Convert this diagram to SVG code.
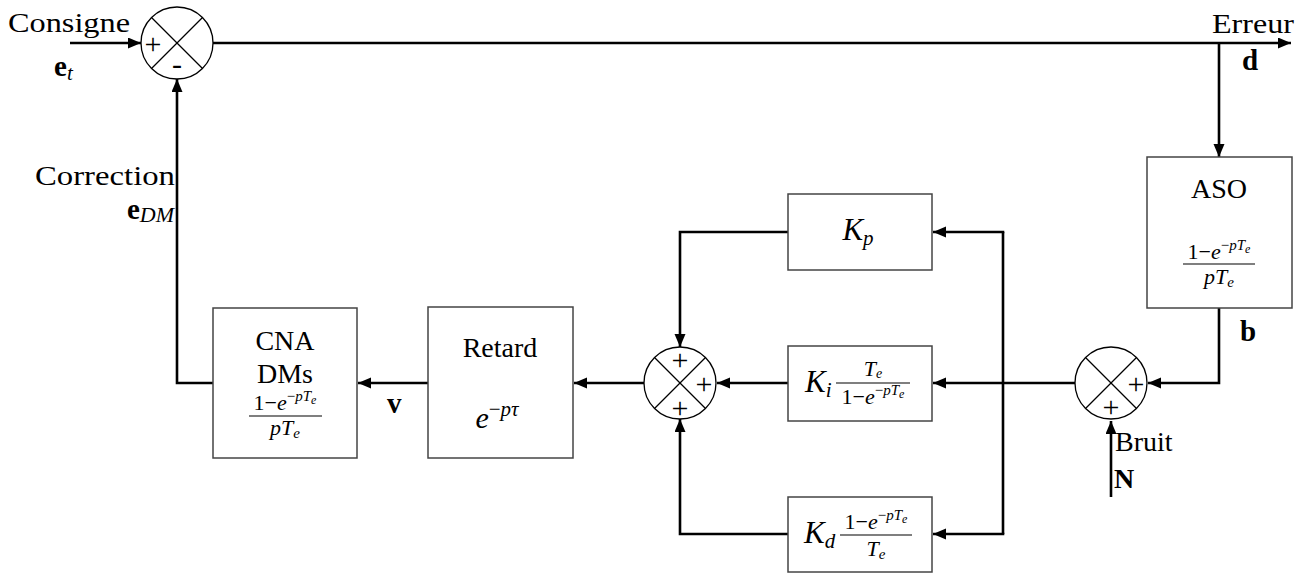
<svg xmlns="http://www.w3.org/2000/svg" width="1313" height="574" viewBox="0 0 1313 574">
<style>
text{font-family:"Liberation Serif","Times New Roman",serif;fill:#000}
.lbl{font-size:28px}
.it{font-style:italic}
.b{font-weight:bold}
.box{fill:#fff;stroke:#444;stroke-width:1.5}
.sum{fill:#fff;stroke:#000;stroke-width:1.3}
.x{stroke:#000;stroke-width:1.2}
.w{fill:none;stroke:#000;stroke-width:2.6}
.bar{stroke:#000;stroke-width:1.2}
.pl{font-size:30px;text-anchor:middle}
.fr{font-size:22px}
.sup{font-size:15px}
.sub{font-size:12px}
</style>
<defs>
<marker id="ah" markerUnits="userSpaceOnUse" markerWidth="14" markerHeight="12" refX="13" refY="5.5" orient="auto">
<path d="M0,0 L13,5.5 L0,11 z" fill="#000"/>
</marker>
</defs>

<g id="connectors">
<line class="w" x1="70" y1="43" x2="141" y2="43" marker-end="url(#ah)"/>
<line class="w" x1="213" y1="43" x2="1291" y2="43" marker-end="url(#ah)"/>
<line class="w" x1="1219" y1="43" x2="1219" y2="157" marker-end="url(#ah)"/>
<polyline class="w" points="1219,308 1219,383 1148,383" marker-end="url(#ah)"/>
<line class="w" x1="1075" y1="383" x2="933" y2="383" marker-end="url(#ah)"/>
<line class="w" x1="1003" y1="232" x2="1003" y2="534"/>
<line class="w" x1="1004.3" y1="232" x2="933" y2="232" marker-end="url(#ah)"/>
<line class="w" x1="1004.3" y1="534" x2="933" y2="534" marker-end="url(#ah)"/>
<polyline class="w" points="788,232 680,232 680,347" marker-end="url(#ah)"/>
<polyline class="w" points="788,534 680,534 680,419" marker-end="url(#ah)"/>
<line class="w" x1="788" y1="383" x2="717" y2="383" marker-end="url(#ah)"/>
<line class="w" x1="644" y1="383" x2="574" y2="383" marker-end="url(#ah)"/>
<line class="w" x1="428" y1="383" x2="358" y2="383" marker-end="url(#ah)"/>
<polyline class="w" points="213,383 177,383 177,79" marker-end="url(#ah)"/>
<line class="w" x1="1111" y1="497" x2="1111" y2="421" marker-end="url(#ah)"/>
</g>

<g id="labels">
<text class="lbl" x="8" y="32" textLength="122" lengthAdjust="spacingAndGlyphs">Consigne</text>
<text x="54" y="76" font-size="29"><tspan class="b">e</tspan><tspan class="it" font-size="21" dy="4">t</tspan></text>
<text class="lbl" x="1294" y="33" text-anchor="end" textLength="82" lengthAdjust="spacingAndGlyphs">Erreur</text>
<text class="b" x="1242" y="70" font-size="29">d</text>
<text class="lbl" x="175" y="185" text-anchor="end" textLength="140" lengthAdjust="spacingAndGlyphs">Correction</text>
<text x="174" y="219" text-anchor="end" font-size="29"><tspan class="b">e</tspan><tspan class="it" font-size="22" dy="3">DM</tspan></text>
<text class="b" x="1240" y="341" font-size="29">b</text>
<text class="b" x="387" y="413" font-size="29">v</text>
<text class="lbl" x="1115" y="451">Bruit</text>
<text class="b" x="1114" y="488" font-size="28">N</text>
</g>

<g id="sum1">
<circle class="sum" cx="177" cy="43" r="36"/>
<line class="x" x1="151.5" y1="17.5" x2="202.5" y2="68.5"/>
<line class="x" x1="202.5" y1="17.5" x2="151.5" y2="68.5"/>
<text class="pl" x="153" y="54">+</text>
<text class="pl" x="177" y="74">-</text>
</g>

<g id="sum2">
<circle class="sum" cx="1111" cy="383" r="36"/>
<line class="x" x1="1085.5" y1="357.5" x2="1136.5" y2="408.5"/>
<line class="x" x1="1136.5" y1="357.5" x2="1085.5" y2="408.5"/>
<text class="pl" x="1136" y="394">+</text>
<text class="pl" x="1111" y="417">+</text>
</g>

<g id="sum3">
<circle class="sum" cx="680" cy="383" r="36"/>
<line class="x" x1="654.5" y1="357.5" x2="705.5" y2="408.5"/>
<line class="x" x1="705.5" y1="357.5" x2="654.5" y2="408.5"/>
<text class="pl" x="680" y="370">+</text>
<text class="pl" x="704" y="394">+</text>
<text class="pl" x="680" y="418">+</text>
</g>

<g id="aso">
<rect class="box" x="1147" y="157" width="145" height="151"/>
<text class="lbl" x="1219" y="198" text-anchor="middle">ASO</text>
<text class="fr" x="1219" y="259" text-anchor="middle">1−<tspan class="it">e</tspan><tspan class="sup" dy="-9">−</tspan><tspan class="it sup">pT</tspan><tspan class="it sub" dy="3">e</tspan></text>
<line class="bar" x1="1183" y1="264" x2="1255" y2="264"/>
<text class="fr" x="1219" y="284" text-anchor="middle"><tspan class="it">pT</tspan><tspan class="it" font-size="15" dy="3">e</tspan></text>
</g>

<g id="cna">
<rect class="box" x="213" y="308" width="144" height="150"/>
<text class="lbl" x="285" y="350" text-anchor="middle">CNA</text>
<text class="lbl" x="285" y="383" text-anchor="middle">DMs</text>
<text class="fr" x="285" y="410" text-anchor="middle">1−<tspan class="it">e</tspan><tspan class="sup" dy="-9">−</tspan><tspan class="it sup">pT</tspan><tspan class="it sub" dy="3">e</tspan></text>
<line class="bar" x1="249" y1="416" x2="322" y2="416"/>
<text class="fr" x="285" y="435" text-anchor="middle"><tspan class="it">pT</tspan><tspan class="it" font-size="15" dy="3">e</tspan></text>
</g>

<g id="retard">
<rect class="box" x="428" y="307" width="145" height="151"/>
<text class="lbl" x="500" y="357" text-anchor="middle">Retard</text>
<text x="497" y="428" text-anchor="middle" font-size="30"><tspan class="it">e</tspan><tspan font-size="21" dy="-12">−</tspan><tspan class="it" font-size="21">pτ</tspan></text>
</g>

<g id="kp">
<rect class="box" x="788" y="194" width="144" height="76"/>
<text x="858" y="240" text-anchor="middle" font-size="31"><tspan class="it">K</tspan><tspan class="it" font-size="21" dy="5">p</tspan></text>
</g>

<g id="ki">
<rect class="box" x="788" y="346" width="144" height="75"/>
<text x="805" y="392" font-size="31"><tspan class="it">K</tspan><tspan class="it" font-size="21" dy="5">i</tspan></text>
<text class="fr" x="873" y="376" text-anchor="middle"><tspan class="it">T</tspan><tspan class="it" font-size="14" dy="2">e</tspan></text>
<line class="bar" x1="836" y1="383" x2="910" y2="383"/>
<text class="fr" x="873" y="404" text-anchor="middle">1−<tspan class="it">e</tspan><tspan class="sup" dy="-9">−</tspan><tspan class="it sup">pT</tspan><tspan class="it sub" dy="3">e</tspan></text>
</g>

<g id="kd">
<rect class="box" x="788" y="497" width="144" height="75"/>
<text x="804" y="543" font-size="31"><tspan class="it">K</tspan><tspan class="it" font-size="21" dy="5">d</tspan></text>
<text class="fr" x="876" y="529" text-anchor="middle">1−<tspan class="it">e</tspan><tspan class="sup" dy="-9">−</tspan><tspan class="it sup">pT</tspan><tspan class="it sub" dy="3">e</tspan></text>
<line class="bar" x1="840" y1="535" x2="912" y2="535"/>
<text class="fr" x="876" y="556" text-anchor="middle"><tspan class="it">T</tspan><tspan class="it" font-size="15" dy="3">e</tspan></text>
</g>
</svg>
